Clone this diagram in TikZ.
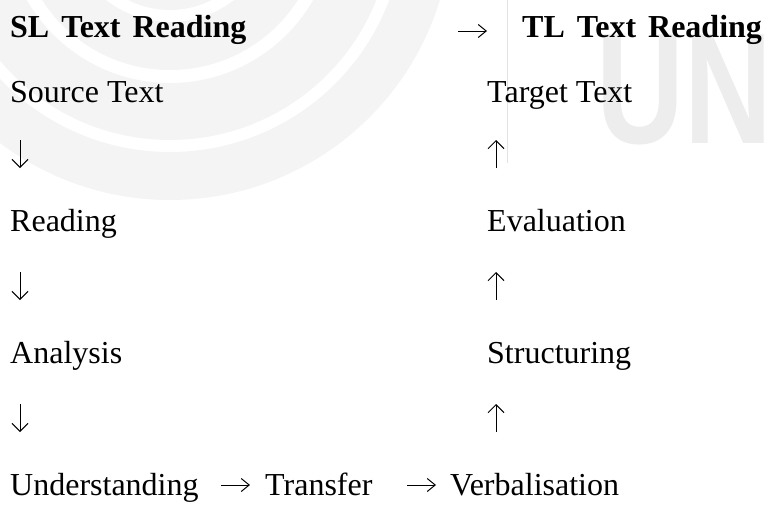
\documentclass[tikz,border=0pt]{standalone}
\usepackage{fontspec}
\usepackage{graphicx}
\setmainfont{Liberation Serif}
\newfontfamily\logofont{Liberation Sans}
\usetikzlibrary{arrows.meta, positioning}
\definecolor{wmark}{gray}{0.955}
\definecolor{wletter}{gray}{0.93}
\tikzstyle{heading} = [anchor=base west, inner sep=0pt, font=\fontsize{32}{38}\selectfont\bfseries]
\tikzstyle{stage}   = [anchor=base west, inner sep=0pt, font=\fontsize{32}{38}\selectfont]
\tikzstyle{vflow}   = [-{Straight Barb[length=8pt, width=16pt]}, line width=1pt]
\tikzstyle{hflow}   = [-{Straight Barb[length=8pt, width=13pt]}, line width=1pt]

\begin{document}
\begin{tikzpicture}[x=1pt, y=-1pt]
  \useasboundingbox (0,0) rectangle (768,506);

  % faint logo in the background
  \begin{scope}
    \clip (0,0) rectangle (768,506);
    \fill[wmark, even odd rule] (170,-82) circle (282) (170,-82) circle (234)
                                (170,-82) circle (222) (170,-82) circle (165)
                                (170,-82) circle (152) (170,-82) circle (104)
                                (170,-82) circle (92);
    \draw[black!11, line width=1pt] (507,0) -- (507,163);
    \node (logo) [anchor=base west, inner sep=0pt, text=wletter,
                  font=\fontsize{158}{160}\logofont\bfseries]
      at (596,143) {\scalebox{0.77}[1]{UN}};
  \end{scope}

  % source language side
  \node (sl)    [heading] at (10,37)  {SL\hspace{12pt}Text\hspace{12pt}Reading};
  \node (src)   [stage]   at (10,102) {Source Text};
  \node (read)  [stage]   at (10,231) {Reading};
  \node (anal)  [stage]   at (10,363) {Analysis};
  \node (under) [stage]   at (10,495) {Understanding};
  \coordinate (d1) at (20,140);
  \coordinate (d2) at (20,272);
  \coordinate (d3) at (20,404);
  \draw[vflow] (d1) -- ++(0,28);
  \draw[vflow] (d2) -- ++(0,28);
  \draw[vflow] (d3) -- ++(0,28);

  % target language side
  \node (tl)     [heading] at (522,37)  {TL\hspace{12pt}Text\hspace{12pt}Reading};
  \node (tgt)    [stage]   at (487,102) {Target Text};
  \node (eval)   [stage]   at (487,231) {Evaluation};
  \node (struct) [stage]   at (487,363) {Structuring};
  \coordinate (u1) at (496,168);
  \coordinate (u2) at (496,300);
  \coordinate (u3) at (496,432);
  \draw[vflow] (u1) -- ++(0,-28);
  \draw[vflow] (u2) -- ++(0,-28);
  \draw[vflow] (u3) -- ++(0,-28);

  % heading arrow and the bottom line
  \node (trans) [stage] at (265,495) {Transfer};
  \node (verb)  [stage] at (450,495) {Verbalisation};
  \coordinate (r0) at (458,31);
  \coordinate (r1) at (221,485);
  \coordinate (r2) at (407,485);
  \draw[hflow] (r0) -- ++(29,0);
  \draw[hflow] (r1) -- ++(29,0);
  \draw[hflow] (r2) -- ++(29,0);
\end{tikzpicture}
\end{document}
